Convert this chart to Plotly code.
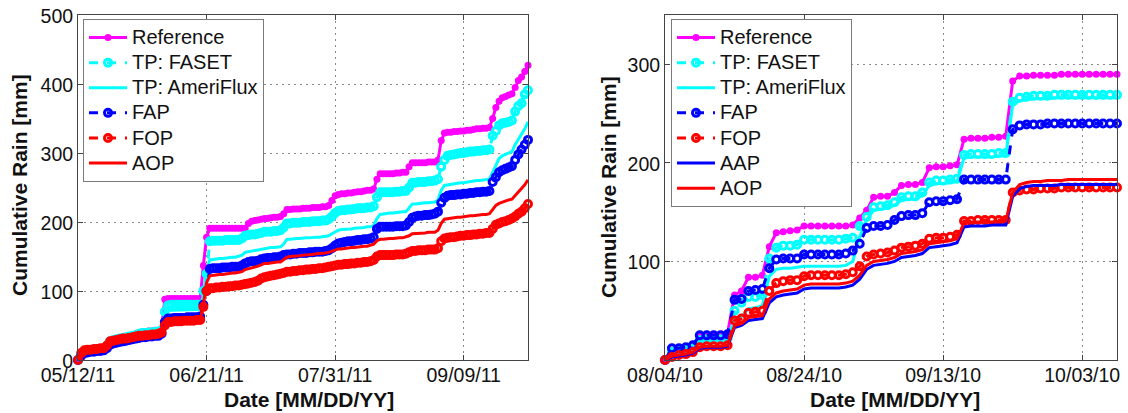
import pandas as pd
import plotly.graph_objects as go

# ---------------- data: 2011 campaign (daily cumulative rain, mm) ----------------
start_2011 = "2011-05-12"
ref_2011 = [0, 8, 14, 15, 16, 16, 17, 17, 18, 22,
            28, 30, 31, 32, 33, 34, 35, 36, 38, 40,
            41, 41, 42, 42, 43, 43, 45, 88, 89, 89,
            89, 89, 89, 89, 89, 89, 89, 89, 89, 137,
            178, 191, 191, 191, 191, 191, 191, 191, 191, 191,
            191, 191, 191, 198, 201, 202, 203, 204, 205, 205,
            206, 207, 207, 208, 212, 218, 218, 219, 219, 219,
            220, 220, 220, 221, 221, 221, 222, 222, 224, 231,
            238, 240, 241, 241, 242, 242, 243, 244, 244, 245,
            246, 246, 248, 262, 270, 270, 270, 270, 270, 271,
            271, 272, 272, 280, 286, 286, 286, 286, 286, 287,
            287, 287, 290, 318, 329, 330, 330, 331, 331, 332,
            332, 333, 333, 334, 335, 335, 336, 336, 337, 350,
            366, 375, 380, 382, 384, 386, 395, 405, 410, 418,
            427]
faset_2011 = [0, 8, 13, 14, 15, 15, 16, 16, 17, 21,
              27, 29, 30, 31, 32, 33, 34, 35, 36, 38,
              39, 39, 40, 40, 41, 41, 43, 70, 79, 80,
              80, 80, 80, 80, 80, 80, 80, 80, 80, 100,
              125, 172, 173, 173, 173, 173, 174, 174, 174, 174,
              174, 176, 180, 181, 182, 182, 183, 184, 186, 186,
              186, 187, 187, 188, 192, 198, 198, 199, 199, 199,
              200, 200, 200, 201, 201, 201, 202, 202, 204, 208,
              213, 216, 217, 217, 218, 218, 219, 220, 220, 220,
              221, 221, 223, 236, 243, 243, 243, 243, 243, 244,
              244, 245, 245, 250, 257, 257, 258, 258, 258, 259,
              259, 260, 262, 280, 290, 296, 297, 298, 299, 300,
              300, 301, 302, 302, 303, 303, 304, 304, 305, 325,
              332, 340, 343, 344, 345, 347, 360, 368, 372, 385,
              391]
ameriflux_2011 = [0, 7, 12, 13, 14, 14, 15, 15, 16, 20,
                  26, 28, 29, 30, 31, 32, 33, 34, 35, 37,
                  38, 38, 39, 39, 40, 40, 42, 65, 72, 72,
                  72, 72, 73, 73, 73, 73, 73, 73, 73, 95,
                  130, 145, 146, 146, 147, 147, 148, 148, 149, 149,
                  150, 152, 156, 157, 158, 159, 160, 161, 162, 162,
                  163, 163, 164, 164, 168, 175, 175, 176, 176, 176,
                  177, 177, 177, 178, 178, 178, 179, 179, 180, 183,
                  186, 188, 189, 189, 190, 190, 191, 191, 192, 192,
                  193, 193, 195, 205, 211, 212, 212, 213, 213, 214,
                  214, 215, 215, 220, 226, 226, 227, 227, 228, 228,
                  229, 229, 232, 246, 253, 254, 255, 255, 256, 257,
                  257, 258, 258, 259, 260, 260, 261, 261, 262, 272,
                  283, 292, 296, 298, 300, 302, 312, 320, 326, 335,
                  345]
fap_2011 = [0, 6, 10, 11, 12, 12, 13, 13, 14, 17,
            22, 24, 25, 26, 27, 28, 29, 30, 31, 32,
            33, 33, 34, 34, 35, 35, 38, 55, 60, 60,
            61, 61, 61, 61, 62, 62, 62, 62, 63, 80,
            100, 132, 133, 133, 133, 134, 134, 134, 135, 135,
            135, 137, 140, 142, 143, 143, 144, 146, 147, 148,
            148, 149, 149, 150, 152, 153, 153, 154, 154, 155,
            155, 155, 156, 156, 157, 157, 157, 158, 159, 162,
            166, 169, 170, 171, 172, 172, 173, 174, 174, 175,
            175, 176, 178, 190, 193, 193, 193, 193, 193, 194,
            194, 194, 195, 200, 206, 208, 209, 209, 210, 210,
            211, 212, 215, 228, 235, 238, 239, 239, 240, 240,
            241, 241, 242, 242, 243, 243, 244, 244, 245, 258,
            265, 272, 275, 277, 279, 281, 290, 298, 305, 312,
            319]
fop_2011 = [0, 10, 14, 15, 15, 16, 16, 17, 17, 21,
            27, 28, 29, 30, 31, 31, 32, 33, 34, 35,
            35, 36, 36, 37, 37, 38, 40, 50, 55, 55,
            56, 56, 56, 57, 57, 57, 57, 58, 58, 77,
            100, 104, 104, 105, 105, 106, 106, 107, 107, 108,
            108, 109, 110, 111, 112, 113, 115, 118, 120, 121,
            122, 123, 124, 125, 126, 128, 128, 129, 129, 130,
            130, 131, 131, 132, 132, 133, 133, 134, 135, 136,
            137, 138, 138, 139, 139, 140, 140, 141, 141, 142,
            142, 143, 145, 150, 152, 152, 152, 152, 152, 153,
            153, 153, 154, 156, 158, 158, 159, 159, 159, 160,
            160, 160, 162, 172, 176, 177, 178, 178, 179, 180,
            180, 181, 181, 182, 182, 183, 183, 184, 184, 190,
            196, 198, 200, 201, 203, 205, 208, 212, 215, 220,
            226]
aop_2011 = [0, 9, 13, 14, 14, 15, 15, 16, 16, 20,
            26, 27, 28, 29, 30, 30, 31, 32, 33, 34,
            34, 35, 35, 36, 36, 37, 39, 49, 54, 54,
            55, 55, 55, 56, 56, 56, 56, 57, 57, 80,
            112, 122, 123, 123, 124, 124, 125, 125, 126, 126,
            127, 128, 131, 132, 133, 134, 136, 138, 140, 140,
            141, 141, 142, 142, 145, 149, 150, 150, 151, 151,
            152, 152, 153, 153, 154, 154, 155, 155, 156, 158,
            160, 161, 161, 162, 162, 163, 163, 164, 164, 165,
            165, 166, 168, 173, 175, 175, 176, 176, 176, 177,
            177, 177, 178, 180, 183, 183, 184, 184, 184, 185,
            185, 185, 188, 198, 204, 205, 206, 206, 207, 207,
            208, 208, 209, 209, 210, 210, 211, 211, 212, 218,
            224, 227, 229, 230, 232, 233, 238, 243, 248, 254,
            261]

# ---------------- data: 2010 campaign (daily cumulative rain, mm) ----------------
start_2010 = "2010-08-04"
ref_2010 = [0, 10, 12, 13, 15, 25, 26, 26, 26, 27,
            66, 70, 84, 84, 86, 115, 129, 130, 131, 132,
            136, 136, 136, 136, 136, 136, 136, 137, 144, 152,
            165, 166, 166, 170, 177, 178, 178, 180, 195, 196,
            196, 197, 198, 224, 225, 225, 225, 226, 226, 227,
            283, 288, 288, 289, 289, 289, 289, 290, 290, 290,
            290, 290, 290, 290, 290, 290]
faset_2010 = [0, 8, 10, 11, 12, 20, 21, 21, 21, 22,
              50, 58, 64, 64, 66, 103, 114, 116, 116, 117,
              122, 122, 122, 122, 122, 122, 123, 124, 136, 145,
              155, 156, 157, 160, 165, 166, 166, 170, 180, 182,
              182, 183, 184, 208, 209, 209, 209, 209, 210, 210,
              262, 266, 267, 268, 268, 268, 269, 269, 269, 269,
              269, 269, 269, 269, 269, 269]
ameriflux_2010 = [0, 7, 9, 10, 11, 18, 19, 19, 19, 20,
                  42, 44, 52, 53, 55, 85, 92, 93, 93, 94,
                  95, 95, 95, 95, 95, 95, 96, 100, 125, 142,
                  152, 153, 154, 157, 162, 163, 163, 167, 177, 179,
                  179, 180, 181, 205, 206, 206, 206, 206, 207, 207,
                  259, 263, 264, 265, 265, 265, 266, 266, 266, 266,
                  266, 266, 266, 266, 266, 266]
fap_2010 = [0, 12, 12, 13, 15, 25, 25, 25, 25, 26,
            61, 62, 70, 71, 72, 93, 102, 103, 103, 103,
            107, 107, 107, 107, 107, 107, 108, 111, 118, 134,
            136, 136, 137, 142, 146, 147, 147, 149, 160, 161,
            161, 162, 163, 183, 183, 183, 183, 183, 183, 183,
            234, 238, 239, 239, 239, 240, 240, 240, 240, 240,
            240, 240, 240, 240, 240, 240]
fop_2010 = [0, 3, 5, 6, 8, 13, 14, 14, 14, 15,
            40, 42, 48, 49, 50, 70, 78, 80, 81, 81,
            85, 86, 86, 86, 86, 86, 87, 89, 95, 105,
            107, 108, 109, 111, 114, 115, 116, 118, 123, 124,
            124, 125, 127, 141, 141, 142, 142, 142, 142, 142,
            170, 172, 173, 173, 174, 174, 174, 175, 175, 175,
            175, 175, 175, 175, 175, 175]
aap_2010 = [0, 3, 4, 5, 7, 12, 13, 13, 13, 14,
            33, 35, 40, 41, 42, 58, 64, 66, 67, 68,
            72, 73, 73, 73, 73, 73, 74, 76, 82, 92,
            96, 97, 98, 100, 104, 105, 106, 108, 114, 115,
            116, 117, 119, 135, 136, 136, 136, 137, 137, 137,
            166, 174, 176, 177, 177, 177, 177, 178, 178, 178,
            178, 178, 178, 178, 178, 178]
aop_2010 = [0, 4, 5, 6, 8, 13, 14, 14, 14, 15,
            35, 37, 43, 44, 45, 62, 68, 70, 71, 72,
            76, 77, 77, 77, 77, 77, 78, 80, 86, 96,
            100, 101, 102, 104, 108, 109, 110, 112, 118, 119,
            120, 121, 123, 139, 140, 140, 140, 140, 141, 141,
            170, 178, 180, 181, 181, 182, 182, 182, 183, 183,
            183, 183, 183, 183, 183, 183]

ticks_2011 = ["2011-05-12", "2011-06-21", "2011-07-31", "2011-09-09"]
range_2011 = ["2011-05-12", "2011-09-29"]
ticks_2010 = ["2010-08-04", "2010-08-24", "2010-09-13", "2010-10-03"]
range_2010 = ["2010-08-04", "2010-10-08"]
yticks_2011 = [0, 100, 200, 300, 400, 500]
yticks_2010 = [100, 200, 300]

dates_2011 = pd.date_range(start_2011, periods=len(ref_2011), freq="D")
dates_2010 = pd.date_range(start_2010, periods=len(ref_2010), freq="D")

# ---------------- styling ----------------
W, H = 1128, 413
FONT = "Liberation Sans, Arial, Helvetica, sans-serif"
MAG, CYAN, BLUE, RED = "#ff00ff", "#00ffff", "#0000ff", "#ff0000"
LW = 3


def label(text):
    # legend rows are packed tighter than the text size would normally allow
    return f"<span style='font-size:20px'>{text}</span>"


def ring_trace(x, y, name, color, xa, ya, legend):
    return go.Scatter(x=x, y=y, name=label(name), mode="lines+markers", xaxis=xa, yaxis=ya,
                      legend=legend, cliponaxis=False,
                      line=dict(color=color, width=LW, dash="dash"),
                      marker=dict(symbol="circle-open", size=7, color=color,
                                  line=dict(color=color, width=3)))


def dot_trace(x, y, name, color, xa, ya, legend):
    return go.Scatter(x=x, y=y, name=label(name), mode="lines+markers", xaxis=xa, yaxis=ya,
                      legend=legend, cliponaxis=False,
                      line=dict(color=color, width=LW),
                      marker=dict(symbol="circle", size=7, color=color))


def line_trace(x, y, name, color, xa, ya, legend):
    return go.Scatter(x=x, y=y, name=label(name), mode="lines", xaxis=xa, yaxis=ya,
                      legend=legend, cliponaxis=False,
                      line=dict(color=color, width=LW))


fig = go.Figure()
# left panel: 2011
fig.add_trace(dot_trace(dates_2011, ref_2011, "Reference", MAG, "x", "y", "legend"))
fig.add_trace(ring_trace(dates_2011, faset_2011, "TP: FASET", CYAN, "x", "y", "legend"))
fig.add_trace(line_trace(dates_2011, ameriflux_2011, "TP: AmeriFlux", CYAN, "x", "y", "legend"))
fig.add_trace(ring_trace(dates_2011, fap_2011, "FAP", BLUE, "x", "y", "legend"))
fig.add_trace(ring_trace(dates_2011, fop_2011, "FOP", RED, "x", "y", "legend"))
fig.add_trace(line_trace(dates_2011, aop_2011, "AOP", RED, "x", "y", "legend"))
# right panel: 2010
fig.add_trace(dot_trace(dates_2010, ref_2010, "Reference", MAG, "x2", "y2", "legend2"))
fig.add_trace(ring_trace(dates_2010, faset_2010, "TP: FASET", CYAN, "x2", "y2", "legend2"))
fig.add_trace(line_trace(dates_2010, ameriflux_2010, "TP: AmeriFlux", CYAN, "x2", "y2", "legend2"))
fig.add_trace(ring_trace(dates_2010, fap_2010, "FAP", BLUE, "x2", "y2", "legend2"))
fig.add_trace(ring_trace(dates_2010, fop_2010, "FOP", RED, "x2", "y2", "legend2"))
fig.add_trace(line_trace(dates_2010, aap_2010, "AAP", BLUE, "x2", "y2", "legend2"))
fig.add_trace(line_trace(dates_2010, aop_2010, "AOP", RED, "x2", "y2", "legend2"))


def px_x(p):
    return p / W


def px_y(p):
    return 1 - p / H


common_axis = dict(showline=True, linecolor="#444444", linewidth=1, mirror="ticks",
                   ticks="inside", ticklen=5, tickcolor="#444444", automargin=False,
                   showgrid=True, gridcolor="#8a8a8a", gridwidth=1, griddash="2px,4px",
                   zeroline=False, tickfont=dict(family=FONT, size=19.5, color="#111111"))

legend_style = dict(xanchor="left", yanchor="top", bgcolor="white",
                    bordercolor="#7a7a7a", borderwidth=1,
                    font=dict(family=FONT, size=17, color="#111111"),
                    itemwidth=38, tracegroupgap=0)

fig.update_layout(
    width=W, height=H, margin=dict(l=0, r=0, t=0, b=0, autoexpand=False),
    paper_bgcolor="white", plot_bgcolor="white",
    xaxis=dict(domain=[px_x(78), px_x(528)], type="date", range=range_2011,
               tickvals=ticks_2011, tickformat="%m/%d/%y", anchor="y",
               ticklabelstandoff=-2, **common_axis),
    yaxis=dict(domain=[px_y(360), px_y(15)], range=[0, 500], tickvals=yticks_2011,
               anchor="x", ticklabelstandoff=0, ticklabelshift=1, **common_axis),
    xaxis2=dict(domain=[px_x(665), px_x(1117)], type="date", range=range_2010,
                tickvals=ticks_2010, tickformat="%m/%d/%y", anchor="y2",
                ticklabelstandoff=-2, **common_axis),
    yaxis2=dict(domain=[px_y(360), px_y(15)], range=[0, 350], tickvals=yticks_2010,
                anchor="x2", ticklabelstandoff=0, ticklabelshift=1, **common_axis),
    legend=dict(x=px_x(83), y=px_y(19), **legend_style),
    legend2=dict(x=px_x(671), y=px_y(19), **legend_style),
    showlegend=True,
)

title_font = dict(family=FONT, size=21, color="#111111")
annotations = [
    dict(text="<b>Cumulative Rain [mm]</b>", x=px_x(19), y=px_y(185), textangle=-90),
    dict(text="<b>Cumulative Rain [mm]</b>", x=px_x(608), y=px_y(187), textangle=-90),
    dict(text="<b>Date [MM/DD/YY]</b>", x=px_x(309), y=px_y(399)),
    dict(text="<b>Date [MM/DD/YY]</b>", x=px_x(895), y=px_y(399)),
]
for a in annotations:
    fig.add_annotation(xref="paper", yref="paper", xanchor="center", yanchor="middle",
                       showarrow=False, font=title_font, **a)

fig.write_html("out.html")
